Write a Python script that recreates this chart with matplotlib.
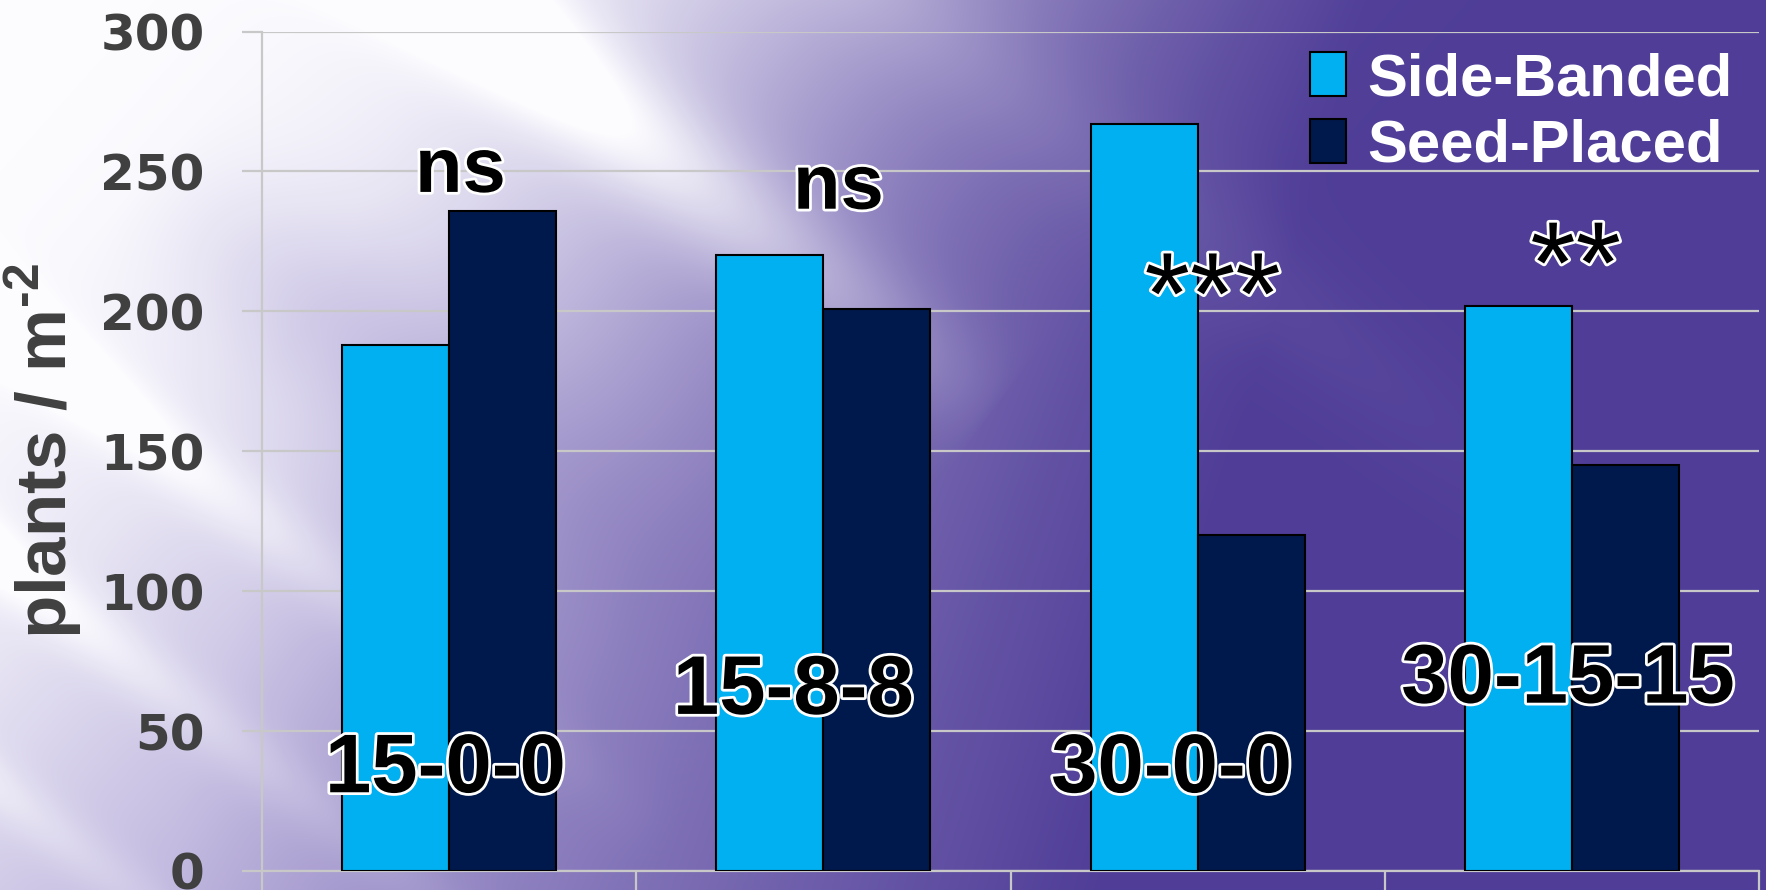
import numpy as np
import matplotlib
matplotlib.use('Agg')
import matplotlib.pyplot as plt
import matplotlib.patheffects as pe

# data
categories = ['15-0-0', '15-8-8', '30-0-0', '30-15-15']
side_banded = [188, 220, 267, 202]
seed_placed = [236, 201, 120, 145]
significance = ['ns', 'ns', '***', '**']
series_names = ['Side-Banded', 'Seed-Placed']
yticks = [0, 50, 100, 150, 200, 250, 300]

# where the in-plot labels sit (x offset from group centre, y in data units)
sig_pos = [(0.03, 250), (0.04, 244), (0.04, 192), (0.01, 203)]
cat_pos = [(-0.01, 36), (-0.08, 64), (-0.07, 36), (-0.01, 68)]

plt.rcParams['font.family'] = ['Liberation Sans', 'DejaVu Sans']
plt.rcParams['mathtext.fontset'] = 'custom'
plt.rcParams['mathtext.rm'] = 'Liberation Sans:bold'
plt.rcParams['mathtext.bf'] = 'Liberation Sans:bold'

W, H = 1766, 890
fig = plt.figure(figsize=(W / 100, H / 100), dpi=100)


def background():
    X, Y = np.meshgrid(np.arange(W, dtype=float), np.arange(H, dtype=float))
    s = Y - 0.78 * X
    light = np.array([176, 165, 214]) / 255
    dark = np.array([79, 61, 151]) / 255
    k = np.clip((X + 0.3 * Y - 420) / 950, 0, 1)
    base = light * (1 - k[..., None]) + dark * k[..., None]
    # broad light coming in from the top left
    along = X + 0.9 * Y
    glow = np.exp(-(along / 850) ** 3)
    glow *= 1 - 0.4 * np.exp(-((s - 60) / 110) ** 2) * np.clip((along - 300) / 300, 0, 1)
    # diagonal streaks
    fade = np.clip(1 - (X + 0.75 * Y) / 1300, 0, 1)
    streak = (0.8 * np.exp(-((s + 360) / 75) ** 2) * fade ** 0.6
              + 0.5 * np.exp(-((s - 320) / 45) ** 2) * fade
              + 0.5 * np.exp(-((s - 560) / 40) ** 2) * fade
              + 0.4 * np.exp(-((s - 790) / 35) ** 2) * fade
              + 0.2 * np.exp(-((s + 700) / 80) ** 2) * np.clip(1 - X / 1700, 0, 1))
    w = np.clip(glow + streak, 0, 1)[..., None]
    return base * (1 - w) + w * np.array([0.99, 0.99, 1.0])


bg = fig.add_axes([0, 0, 1, 1], zorder=-10)
bg.imshow(background(), aspect='auto', extent=[0, 1, 0, 1])
bg.axis('off')

ax = fig.add_axes([262 / W, 1 - 871 / H, (1759 - 262) / W, (871 - 31.5) / H])
ax.set_facecolor('none')

x = np.arange(len(categories))
bw = 0.286
ax.bar(x - bw / 2, side_banded, bw, color='#00B0F0', edgecolor='black', linewidth=1.5,
       label=series_names[0], zorder=3)
ax.bar(x + bw / 2, seed_placed, bw, color='#00194C', edgecolor='black', linewidth=1.5,
       label=series_names[1], zorder=3)

ax.set_xlim(-0.5, len(categories) - 0.5)
ax.set_ylim(0, 300)
ax.set_yticks(yticks)
ax.set_yticklabels([str(v) for v in yticks], fontsize=36, fontweight='bold',
                   color='#404040', family='DejaVu Sans')
ax.yaxis.grid(True, color='#c8c8c8', linewidth=1.6, zorder=0)
ax.set_axisbelow(True)
ax.tick_params(axis='y', direction='out', length=14.4, width=1.6, color='#c8c8c8', pad=27)
ax.set_xticks(np.arange(-0.5, len(categories), 1.0))
ax.set_xticklabels([])
ax.tick_params(axis='x', direction='out', length=14, width=1.6, color='#c8c8c8')
for side in ['top', 'right']:
    ax.spines[side].set_visible(False)
ax.spines['left'].set_color('#c8c8c8')
ax.spines['left'].set_linewidth(1.6)
ax.spines['bottom'].set_color('#c8c8c8')
ax.spines['bottom'].set_linewidth(1.6)

ax.set_ylabel(r'plants / m$^{\text{-2}}$', fontsize=51, fontweight='bold', color='#404040',
              va='center')
ax.yaxis.set_label_coords(-(262 - 44) / (1759 - 262), 0.5)

outline = [pe.withStroke(linewidth=4, foreground='white')]
for i, lab in enumerate(significance):
    dx, yy = sig_pos[i]
    if lab == 'ns':
        ax.text(i + dx, yy, lab, ha='center', va='center', fontsize=56, fontweight='bold',
                color='black', path_effects=outline, zorder=5)
    else:
        ax.text(i + dx, yy, lab, ha='center', va='baseline', fontsize=84,
                color='black', path_effects=outline, zorder=5)

for i, lab in enumerate(categories):
    dx, yy = cat_pos[i]
    ax.text(i + dx, yy, lab, ha='center', va='center', fontsize=60, fontweight='bold',
            color='black', path_effects=outline, zorder=5)

leg = ax.legend(loc='upper right', bbox_to_anchor=(1732 / W, 1 - 52 / H),
                bbox_transform=fig.transFigure, frameon=False, fontsize=43,
                handlelength=0.6, handleheight=0.75, handletextpad=0.35, labelspacing=0.2,
                borderaxespad=0, borderpad=0)
for txt in leg.get_texts():
    txt.set_color('white')
    txt.set_fontweight('bold')

fig.savefig('out.png', dpi=100)
